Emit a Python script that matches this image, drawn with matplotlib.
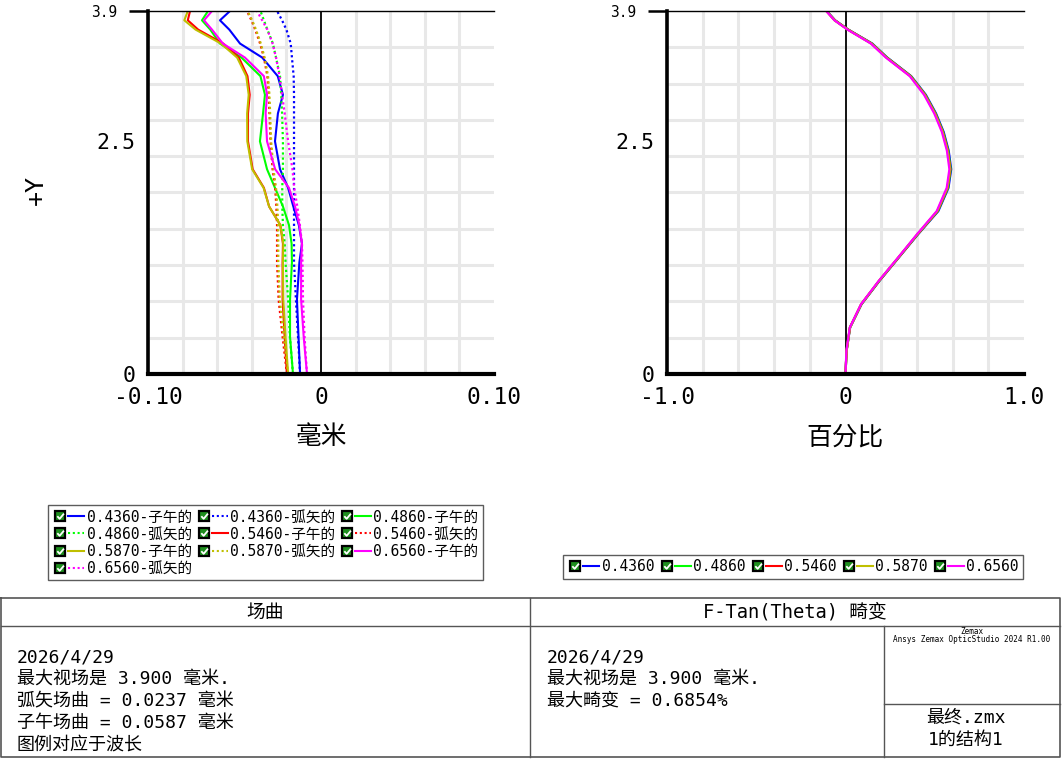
import matplotlib
matplotlib.use('Agg')
import matplotlib.pyplot as plt
from matplotlib.lines import Line2D
from matplotlib.legend_handler import HandlerTuple
from matplotlib.transforms import ScaledTranslation
import numpy as np

plt.rcParams['font.family'] = ['DejaVu Sans Mono', 'Noto Sans CJK SC']

# ---- data ----
wavelengths = ['0.4360', '0.4860', '0.5460', '0.5870', '0.6560']
colors = ['#0000ff', '#00ff00', '#ff0000', '#bfbf00', '#ff00ff']

# field curvature: field height (mm) vs focus shift (mm)
field_y = [0, 0.4, 0.8, 1.2, 1.4, 1.6, 1.8, 2.0, 2.2, 2.5, 2.8, 3.0, 3.2, 3.4, 3.55, 3.7, 3.8, 3.9]

tan_0436 = [-0.0121, -0.0130, -0.0139, -0.0125, -0.0110, -0.0128, -0.0160, -0.0190, -0.0237,
            -0.0266, -0.0249, -0.0220, -0.0250, -0.0340, -0.0468, -0.0530, -0.0584, -0.0526]
sag_0436 = [-0.0121, -0.0133, -0.0145, -0.0156, -0.0156, -0.0156, -0.0156, -0.0156, -0.0156,
            -0.0156, -0.0156, -0.0156, -0.0158, -0.0168, -0.0175, -0.0200, -0.0225, -0.0254]
tan_0486 = [-0.0162, -0.0179, -0.0179, -0.0168, -0.0170, -0.0185, -0.0220, -0.0266, -0.0312,
            -0.0353, -0.0335, -0.0324, -0.0350, -0.0460, -0.0584, -0.0640, -0.0688, -0.0653]
sag_0486 = [-0.0162, -0.0180, -0.0190, -0.0205, -0.0210, -0.0220, -0.0224, -0.0224, -0.0220,
            -0.0220, -0.0225, -0.0230, -0.0237, -0.0260, -0.0278, -0.0310, -0.0330, -0.0350]
tan_0546 = [-0.0197, -0.0210, -0.0222, -0.0222, -0.0220, -0.0235, -0.0300, -0.0330, -0.0395,
            -0.0422, -0.0422, -0.0412, -0.0425, -0.0475, -0.0565, -0.0710, -0.0770, -0.0757]
sag_0546 = [-0.0197, -0.0222, -0.0245, -0.0254, -0.0254, -0.0254, -0.0258, -0.0265, -0.0280,
            -0.0292, -0.0298, -0.0302, -0.0310, -0.0330, -0.0352, -0.0380, -0.0402, -0.0428]
tan_0587 = [-0.0190, -0.0205, -0.0218, -0.0220, -0.0218, -0.0235, -0.0300, -0.0332, -0.0398,
            -0.0426, -0.0427, -0.0418, -0.0432, -0.0485, -0.0578, -0.0725, -0.0790, -0.0770]
sag_0587 = [-0.0190, -0.0215, -0.0238, -0.0247, -0.0247, -0.0248, -0.0252, -0.0260, -0.0275,
            -0.0288, -0.0294, -0.0298, -0.0306, -0.0326, -0.0348, -0.0376, -0.0398, -0.0424]
tan_0656 = [-0.0081, -0.0100, -0.0115, -0.0115, -0.0110, -0.0125, -0.0150, -0.0185, -0.0265,
            -0.0312, -0.0320, -0.0312, -0.0330, -0.0440, -0.0567, -0.0630, -0.0676, -0.0630]
sag_0656 = [-0.0081, -0.0095, -0.0104, -0.0107, -0.0110, -0.0122, -0.0137, -0.0155, -0.0165,
            -0.0190, -0.0210, -0.0225, -0.0240, -0.0260, -0.0280, -0.0310, -0.0340, -0.0370]

tangential = [tan_0436, tan_0486, tan_0546, tan_0587, tan_0656]
sagittal = [sag_0436, sag_0486, sag_0546, sag_0587, sag_0656]

# F-Tan(Theta) distortion (%)
dist_y = [0, 0.25, 0.5, 0.75, 1.0, 1.25, 1.5, 1.75, 2.0, 2.2, 2.4, 2.6, 2.8, 3.0, 3.2, 3.4, 3.55, 3.7, 3.8, 3.9]
dist_0436 = [0, 0.006, 0.026, 0.090, 0.190, 0.298, 0.406, 0.520, 0.577, 0.592, 0.578, 0.550, 0.507, 0.450, 0.368, 0.234, 0.150, 0.016, -0.058, -0.105]
dist_0486 = [0, 0.006, 0.025, 0.089, 0.189, 0.297, 0.404, 0.517, 0.574, 0.589, 0.575, 0.547, 0.504, 0.447, 0.366, 0.232, 0.148, 0.015, -0.059, -0.106]
dist_0546 = [0, 0.006, 0.025, 0.088, 0.188, 0.296, 0.403, 0.515, 0.572, 0.587, 0.573, 0.545, 0.502, 0.445, 0.364, 0.230, 0.146, 0.014, -0.060, -0.107]
dist_0587 = [0, 0.006, 0.025, 0.088, 0.187, 0.295, 0.402, 0.514, 0.571, 0.586, 0.572, 0.544, 0.501, 0.444, 0.363, 0.229, 0.145, 0.013, -0.061, -0.107]
dist_0656 = [0, 0.005, 0.024, 0.087, 0.186, 0.294, 0.400, 0.511, 0.567, 0.582, 0.568, 0.540, 0.497, 0.440, 0.360, 0.226, 0.142, 0.011, -0.062, -0.108]
distortion = [dist_0436, dist_0486, dist_0546, dist_0587, dist_0656]

W, H = 1062, 759
fig = plt.figure(figsize=(W / 100, H / 100), dpi=100)
ax1 = fig.add_axes([148 / W, 1 - 374 / H, 346 / W, 363 / H])
ax2 = fig.add_axes([667 / W, 1 - 374 / H, 357 / W, 363 / H])

dotted = (0, (1.0, 1.3))


def style_axes(ax, xmax, xticklabels):
    ax.set_xlim(-xmax, xmax)
    ax.set_ylim(0, 3.9)
    ax.set_xticks([-xmax, 0, xmax])
    ax.set_xticklabels(xticklabels)
    ax.set_yticks([0, 2.5, 3.9])
    ax.set_yticklabels(['0', '2.5', '3.9'])
    ax.set_xticks(np.linspace(-xmax, xmax, 11), minor=True)
    ax.set_yticks(np.linspace(0, 3.9, 11), minor=True)
    ax.set_axisbelow(True)
    ax.grid(which='minor', color='#e8e8e8', lw=2.2)
    ax.tick_params(which='both', length=0)
    ax.tick_params(axis='x', labelsize=16.5, pad=9)
    ax.tick_params(axis='y', labelsize=15.5, pad=9)
    ax.axvline(0, color='black', lw=1.3, zorder=1)
    ax.spines['right'].set_visible(False)
    ax.spines['top'].set_linewidth(1)
    ax.spines['left'].set_linewidth(2.6)
    ax.spines['bottom'].set_linewidth(3)
    # small top label "3.9" with its grey tick
    tick = ax.yaxis.get_major_ticks()[2]
    tick.label1.set_fontsize(10.5)
    tick.tick1line.set_markersize(14)
    tick.tick1line.set_markeredgewidth(1.8)
    tick.tick1line.set_color('#999999')
    tick.label1.set_transform(tick.label1.get_transform()
                              + ScaledTranslation(-18 / 100, 0, fig.dpi_scale_trans))


style_axes(ax1, 0.10, ['-0.10', '0', '0.10'])
style_axes(ax2, 1.0, ['-1.0', '0', '1.0'])

for i in range(len(wavelengths)):
    ax1.plot(tangential[i], field_y, color=colors[i], lw=1.5, zorder=2)
    ax1.plot(sagittal[i], field_y, color=colors[i], lw=1.6, ls=dotted, zorder=2)
    ax2.plot(distortion[i], dist_y, color=colors[i], lw=1.6, zorder=2)

ax1.set_xlabel('毫米', fontsize=18.5)
ax1.xaxis.set_label_coords(0.5, -0.138)
ax2.set_xlabel('百分比', fontsize=18.5)
ax2.xaxis.set_label_coords(0.5, -0.138)
ax1.set_ylabel('+Y', fontsize=18)
ax1.yaxis.set_label_coords(-0.29, 0.507)


# ---- legends ----
def make_handle(color, ls):
    box = Line2D([], [], ls='none', marker='s', ms=7.5, mfc='#1f8f1f', mec='black', mew=1.6)
    chk = Line2D([], [], ls='none', marker=[(-0.55, 0.05), (-0.15, -0.4), (0.6, 0.5)],
                 ms=5, fillstyle='none', mec='white', mew=1.3)
    ln = Line2D([], [], color=color, ls=ls, lw=1.5)
    return ((box, chk), ln)


left_handles, left_labels = [], []
for i, wl in enumerate(wavelengths):
    left_handles.append(make_handle(colors[i], '-'))
    left_labels.append(wl + '-子午的')
    left_handles.append(make_handle(colors[i], dotted))
    left_labels.append(wl + '-弧矢的')
# matplotlib fills legend columns first; reorder so rows read left to right
order = [0, 3, 6, 9, 1, 4, 7, 2, 5, 8]
lh = [left_handles[k] for k in order]
ll = [left_labels[k] for k in order]
leg1 = fig.legend(lh, ll, ncol=3, loc='upper left', bbox_to_anchor=(48 / W, 1 - 505 / H),
                  frameon=True, fancybox=False, edgecolor='#333333', fontsize=10.5,
                  handler_map={h: HandlerTuple(ndivide=2, pad=0) for h in lh},
                  borderpad=0.3, labelspacing=0.15, columnspacing=0.26,
                  handlelength=2.2, handletextpad=0.15, borderaxespad=0)
leg1.get_frame().set_linewidth(1)

rh = [make_handle(c, '-') for c in colors]
leg2 = fig.legend(rh, wavelengths, ncol=5, loc='upper left', bbox_to_anchor=(563 / W, 1 - 555 / H),
                  frameon=True, fancybox=False, edgecolor='#333333', fontsize=10.5,
                  handler_map={h: HandlerTuple(ndivide=2, pad=0) for h in rh},
                  borderpad=0.3, columnspacing=0.3,
                  handlelength=2.2, handletextpad=0.15, borderaxespad=0)
leg2.get_frame().set_linewidth(1)

# ---- info table at the bottom ----
tab = fig.add_axes([0, 0, 1, 1], zorder=-1)
tab.set_xlim(0, W)
tab.set_ylim(H, 0)
tab.axis('off')
lc = '#555555'
tab.plot([1, 1060, 1060, 1, 1], [598, 598, 757, 757, 598], color=lc, lw=1.2)
tab.plot([1, 1060], [626, 626], color=lc, lw=1)
tab.plot([530, 530], [598, 757], color=lc, lw=1)
tab.plot([884, 884], [626, 757], color=lc, lw=1)
tab.plot([884, 1060], [704, 704], color=lc, lw=1)

tab.text(265, 612, '场曲', fontsize=13.5, ha='center', va='center')
tab.text(795, 612, 'F-Tan(Theta) 畸变', fontsize=13.5, ha='center', va='center')

left_lines = ['2026/4/29', '最大视场是 3.900 毫米.', '弧矢场曲 = 0.0237 毫米',
              '子午场曲 = 0.0587 毫米', '图例对应于波长']
for k, s in enumerate(left_lines):
    tab.text(17, 657 + 22 * k, s, fontsize=13, ha='left', va='center')
mid_lines = ['2026/4/29', '最大视场是 3.900 毫米.', '最大畸变 = 0.6854%']
for k, s in enumerate(mid_lines):
    tab.text(547, 657 + 22 * k, s, fontsize=13, ha='left', va='center')

tab.text(972, 631, 'Zemax', fontsize=5.5, ha='center', va='center')
tab.text(972, 639, 'Ansys Zemax OpticStudio 2024 R1.00', fontsize=5.5, ha='center', va='center')
tab.text(966, 718, '最终.zmx', fontsize=13, ha='center', va='center')
tab.text(966, 740, '1的结构1', fontsize=13, ha='center', va='center')

fig.savefig('out.png', dpi=100)
